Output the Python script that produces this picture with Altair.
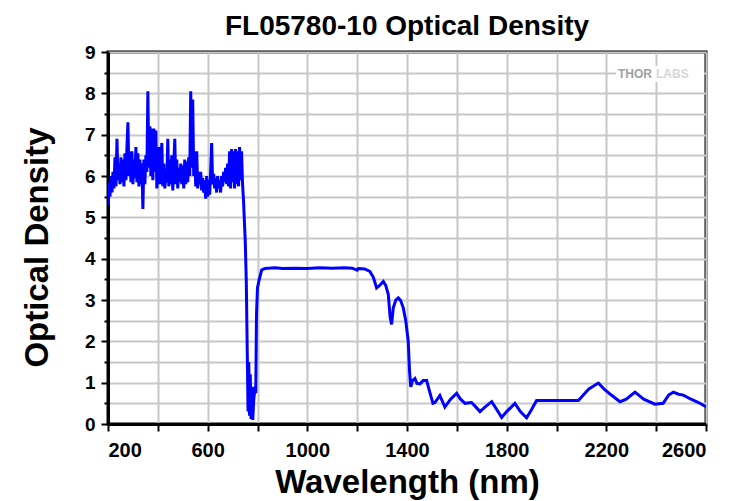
import altair as alt
import pandas as pd

# Noisy blocking region (nm, OD)
wl_block = [200, 204, 208, 212, 216, 220, 224, 228, 232, 236, 240, 244, 248, 252, 256, 260,
            264, 268, 272, 276, 280, 284, 288, 292, 296, 300, 304, 308, 312, 316, 320, 324,
            328, 332, 336, 340, 344, 348, 352, 356, 360, 364, 368, 372, 376, 380, 384, 388,
            392, 396, 400, 404, 408, 412, 416, 420, 424, 428, 432, 436, 440, 444, 448, 452,
            456, 460, 464, 468, 472, 476, 480, 484, 488, 492, 496, 500, 504, 508, 512, 516,
            520, 524, 528, 532, 536, 540, 544, 548, 552, 556, 560, 564, 568, 572, 576, 580,
            584, 588, 592, 596, 600, 604, 608, 612, 616, 620, 624, 628, 632, 636, 640, 644,
            648, 652, 656, 660, 664, 668, 672, 676, 680, 684, 688, 692, 696, 700, 704, 708,
            712, 716, 720, 724, 728, 732, 736, 740]
od_block = [5.30, 5.85, 5.50, 6.00, 5.60, 6.10, 5.70, 6.45, 5.75, 6.90, 5.90, 6.30, 5.80, 6.45, 5.85, 6.40,
            5.75, 6.55, 5.90, 6.70, 7.30, 6.00, 6.60, 5.85, 6.60, 5.80, 6.40, 5.95, 6.70, 5.85, 6.55, 5.75,
            6.40, 5.80, 6.30, 5.20, 6.40, 5.80, 6.50, 6.10, 8.05, 6.20, 7.20, 6.00, 7.15, 5.90, 7.15, 6.10,
            7.10, 5.70, 6.00, 6.70, 5.80, 6.20, 6.80, 5.75, 6.30, 5.70, 6.00, 5.85, 6.90, 5.75, 6.40, 5.80,
            6.50, 5.65, 6.30, 6.90, 5.80, 6.40, 5.70, 6.20, 5.85, 6.30, 5.80, 6.25, 5.70, 6.40, 5.80, 6.35,
            5.85, 6.45, 6.00, 8.05, 6.20, 7.85, 6.00, 6.60, 5.75, 6.60, 5.70, 6.10, 5.80, 6.10, 5.65, 5.95,
            5.60, 5.90, 5.45, 6.00, 5.50, 5.90, 5.55, 6.10, 6.80, 5.80, 6.05, 5.70, 5.95, 5.60, 6.00, 5.70,
            5.90, 5.60, 6.00, 5.75, 6.10, 5.85, 6.20, 5.80, 6.30, 5.75, 6.60, 5.70, 6.65, 5.85, 6.60, 5.70,
            6.65, 5.80, 6.60, 5.75, 6.70, 5.90, 6.60, 5.80]

# Transition, reflection band and long-wave tail
wl_tail = [744, 746, 751, 755, 759, 762, 765, 768, 771, 774, 778, 781, 785, 789, 793, 796, 800,
           807, 817, 830, 870, 900, 950, 1000, 1050, 1100, 1150, 1180, 1200, 1205, 1230, 1251,
           1265, 1278, 1290, 1305, 1315, 1325, 1332, 1338, 1345, 1355, 1365, 1375, 1385, 1395,
           1405, 1410, 1415, 1422, 1432, 1440, 1452, 1465, 1479, 1490, 1504, 1512, 1532, 1552,
           1575, 1599, 1615, 1633, 1659, 1675, 1693, 1715, 1740, 1760, 1780, 1800, 1833, 1855,
           1880, 1900, 1920, 1933, 2088, 2130, 2168, 2190, 2220, 2255, 2280, 2315, 2350, 2395,
           2428, 2450, 2469, 2490, 2509, 2540, 2570, 2600]
od_tail = [5.40, 5.10, 4.40, 3.45, 1.70, 0.30, 1.50, 0.20, 1.20, 0.12, 0.90, 0.10, 0.60, 0.80, 0.75, 2.65, 3.30,
           3.50, 3.73, 3.76, 3.78, 3.76, 3.77, 3.76, 3.78, 3.77, 3.78, 3.77, 3.72, 3.76, 3.75, 3.69,
           3.55, 3.29, 3.35, 3.45, 3.35, 3.13, 2.60, 2.41, 2.81, 3.00, 3.05, 2.98, 2.81, 2.50,
           2.00, 1.30, 0.90, 1.05, 1.10, 0.98, 0.97, 1.05, 1.05, 0.80, 0.50, 0.52, 0.69, 0.41,
           0.60, 0.74, 0.60, 0.50, 0.52, 0.42, 0.30, 0.42, 0.54, 0.35, 0.16, 0.30, 0.50, 0.30,
           0.15, 0.35, 0.57, 0.57, 0.57, 0.85, 0.99, 0.85, 0.70, 0.54, 0.60, 0.77, 0.60, 0.48,
           0.50, 0.70, 0.77, 0.72, 0.70, 0.60, 0.52, 0.42]

x_ticks = [200, 400, 600, 800, 1000, 1200, 1400, 1600, 1800, 2000, 2200, 2400, 2600]
y_ticks = [0, 0.5, 1, 1.5, 2, 2.5, 3, 3.5, 4, 4.5, 5, 5.5, 6, 6.5, 7, 7.5, 8, 8.5, 9]

df = pd.DataFrame({"wl": wl_block + wl_tail, "od": od_block + od_tail})

FONT = "Liberation Sans"

line = alt.Chart(df).mark_line(color="#0000ff", strokeWidth=3, clip=True).encode(
    x=alt.X("wl:Q",
            scale=alt.Scale(domain=[200, 2600], nice=False, zero=False),
            axis=alt.Axis(values=x_ticks,
                          labelExpr="(datum.value - 200) % 400 === 0 ? format(datum.value, 'd') : ''",
                          title="Wavelength (nm)", titleFontSize=33, titleFont=FONT,
                          titleFontWeight="bold", titlePadding=6,
                          labelFontSize=20, labelFont=FONT, labelFontWeight="bold",
                          labelPadding=9, labelColor="#000", titleColor="#000",
                          tickSize=7)),
    y=alt.Y("od:Q",
            scale=alt.Scale(domain=[0, 9], nice=False),
            axis=alt.Axis(values=y_ticks,
                          labelExpr="datum.value % 1 === 0 ? format(datum.value, 'd') : ''",
                          title="Optical Density", titleFontSize=33, titleFont=FONT,
                          titleFontWeight="bold", titlePadding=30, titleY=195,
                          labelFontSize=19, labelFont=FONT, labelFontWeight="bold",
                          labelPadding=6, labelColor="#000", titleColor="#000",
                          tickSize={"condition": {"test": "datum.value % 1 === 0", "value": 7}, "value": 4})),
)

logo_bg = alt.Chart(pd.DataFrame({"a": [0]})).mark_rect(color="white").encode(
    x=alt.value(508), x2=alt.value(596), y=alt.value(14), y2=alt.value(30)
)
logo1 = alt.Chart(pd.DataFrame({"t": ["THOR"]})).mark_text(
    font=FONT, fontWeight="bold", fontSize=12, color="#a0a0a0", align="left", baseline="middle"
).encode(x=alt.value(510), y=alt.value(22), text="t:N")
logo2 = alt.Chart(pd.DataFrame({"t": ["LABS"]})).mark_text(
    font=FONT, fontWeight="bold", fontSize=12, color="#d6d6d6", align="left", baseline="middle"
).encode(x=alt.value(548), y=alt.value(22), text="t:N")

chart = alt.layer(logo_bg, line, logo1, logo2).properties(
    width=598, height=372,
    title=alt.TitleParams("FL05780-10 Optical Density", fontSize=28, font=FONT,
                          fontWeight="bold", anchor="middle", offset=2, color="#000"),
    autosize=alt.AutoSizeParams(type="none"),
    padding={"left": 100, "top": 44, "right": 30, "bottom": 78},
).configure_view(stroke="black", strokeWidth=3).configure_axis(
    domainColor="black", domainWidth=3, tickColor="black", tickWidth=2,
    gridColor="#c8c8c8", gridWidth=2
)

chart.save("out.html", embed_options={"renderer": "svg", "actions": False})
